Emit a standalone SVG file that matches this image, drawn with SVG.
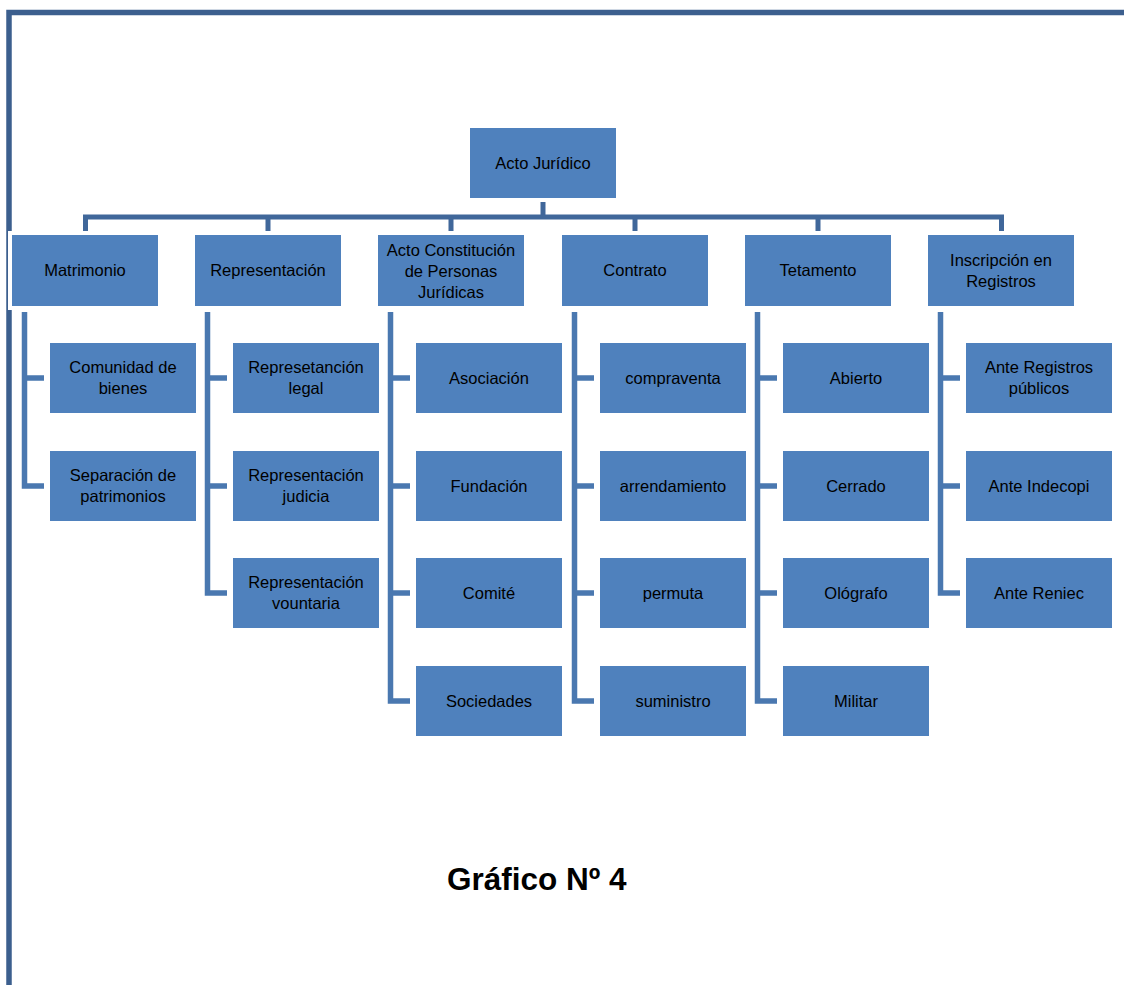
<svg xmlns="http://www.w3.org/2000/svg" width="1124" height="985" viewBox="0 0 1124 985">
<style>
.frame{fill:none;stroke:#3C5F8E;stroke-width:5.5;stroke-linejoin:miter}
.bus{fill:none;stroke:#40679A;stroke-width:5;stroke-linejoin:miter}
.sp{fill:none;stroke:#4A78B0;stroke-width:5.5;stroke-linejoin:miter}
.box{fill:#4F81BD;stroke:#FFFFFF;stroke-width:8;paint-order:stroke}
.t{font-family:"Liberation Sans",Arial,sans-serif;font-size:16.5px;fill:#000;text-anchor:middle}
.cap{font-family:"Liberation Sans",Arial,sans-serif;font-size:31.5px;font-weight:bold;fill:#000}
</style>
<rect width="1124" height="985" fill="#FFFFFF"/>
<path class="frame" d="M9,985 V12.5 H1124"/>
<g id="connectors">
<path class="bus" d="M543,198 V217"/>
<path class="bus" d="M85.5,231 V217 H1001.5 V231"/>
<path class="bus" d="M268,217 V231 M451,217 V231 M635,217 V231 M818,217 V231"/>
<path class="sp" d="M24.5,312 V486 H44 M24.5,378 H44"/>
<path class="sp" d="M207.5,312 V593 H227 M207.5,378 H227 M207.5,486 H227"/>
<path class="sp" d="M390.5,312 V701 H410 M390.5,378 H410 M390.5,486 H410 M390.5,593 H410"/>
<path class="sp" d="M574.5,312 V701 H594 M574.5,378 H594 M574.5,486 H594 M574.5,593 H594"/>
<path class="sp" d="M757.5,312 V701 H777 M757.5,378 H777 M757.5,486 H777 M757.5,593 H777"/>
<path class="sp" d="M940.5,312 V593 H960 M940.5,378 H960 M940.5,486 H960"/>
</g>
<g id="acto-juridico"><rect class="box" x="470" y="128" width="146" height="70"/><text class="t" x="543" y="169">Acto Jurídico</text></g>
<g id="matrimonio"><rect class="box" x="12" y="235" width="146" height="71"/><text class="t" x="85" y="276">Matrimonio</text></g>
<g id="representacion"><rect class="box" x="195" y="235" width="146" height="71"/><text class="t" x="268" y="276">Representación</text></g>
<g id="acto-constitucion"><rect class="box" x="378" y="235" width="146" height="71"/><text class="t" x="451" y="256">Acto Constitución</text><text class="t" x="451" y="277">de Personas</text><text class="t" x="451" y="298">Jurídicas</text></g>
<g id="contrato"><rect class="box" x="562" y="235" width="146" height="71"/><text class="t" x="635" y="276">Contrato</text></g>
<g id="tetamento"><rect class="box" x="745" y="235" width="146" height="71"/><text class="t" x="818" y="276">Tetamento</text></g>
<g id="inscripcion"><rect class="box" x="928" y="235" width="146" height="71"/><text class="t" x="1001" y="266">Inscripción en</text><text class="t" x="1001" y="287">Registros</text></g>

<g id="comunidad"><rect class="box" x="50" y="343" width="146" height="70"/><text class="t" x="123" y="373">Comunidad de</text><text class="t" x="123" y="394">bienes</text></g>
<g id="separacion"><rect class="box" x="50" y="451" width="146" height="70"/><text class="t" x="123" y="481">Separación de</text><text class="t" x="123" y="502">patrimonios</text></g>

<g id="rep-legal"><rect class="box" x="233" y="343" width="146" height="70"/><text class="t" x="306" y="373">Represetanción</text><text class="t" x="306" y="394">legal</text></g>
<g id="rep-judicia"><rect class="box" x="233" y="451" width="146" height="70"/><text class="t" x="306" y="481">Representación</text><text class="t" x="306" y="502">judicia</text></g>
<g id="rep-vountaria"><rect class="box" x="233" y="558" width="146" height="70"/><text class="t" x="306" y="588">Representación</text><text class="t" x="306" y="609">vountaria</text></g>

<g id="asociacion"><rect class="box" x="416" y="343" width="146" height="70"/><text class="t" x="489" y="384">Asociación</text></g>
<g id="fundacion"><rect class="box" x="416" y="451" width="146" height="70"/><text class="t" x="489" y="492">Fundación</text></g>
<g id="comite"><rect class="box" x="416" y="558" width="146" height="70"/><text class="t" x="489" y="599">Comité</text></g>
<g id="sociedades"><rect class="box" x="416" y="666" width="146" height="70"/><text class="t" x="489" y="707">Sociedades</text></g>

<g id="compraventa"><rect class="box" x="600" y="343" width="146" height="70"/><text class="t" x="673" y="384">compraventa</text></g>
<g id="arrendamiento"><rect class="box" x="600" y="451" width="146" height="70"/><text class="t" x="673" y="492">arrendamiento</text></g>
<g id="permuta"><rect class="box" x="600" y="558" width="146" height="70"/><text class="t" x="673" y="599">permuta</text></g>
<g id="suministro"><rect class="box" x="600" y="666" width="146" height="70"/><text class="t" x="673" y="707">suministro</text></g>

<g id="abierto"><rect class="box" x="783" y="343" width="146" height="70"/><text class="t" x="856" y="384">Abierto</text></g>
<g id="cerrado"><rect class="box" x="783" y="451" width="146" height="70"/><text class="t" x="856" y="492">Cerrado</text></g>
<g id="olografo"><rect class="box" x="783" y="558" width="146" height="70"/><text class="t" x="856" y="599">Ológrafo</text></g>
<g id="militar"><rect class="box" x="783" y="666" width="146" height="70"/><text class="t" x="856" y="707">Militar</text></g>

<g id="registros-publicos"><rect class="box" x="966" y="343" width="146" height="70"/><text class="t" x="1039" y="373">Ante Registros</text><text class="t" x="1039" y="394">públicos</text></g>
<g id="indecopi"><rect class="box" x="966" y="451" width="146" height="70"/><text class="t" x="1039" y="492">Ante Indecopi</text></g>
<g id="reniec"><rect class="box" x="966" y="558" width="146" height="70"/><text class="t" x="1039" y="599">Ante Reniec</text></g>

<text class="cap" x="447" y="890">Gráfico Nº 4</text>
</svg>
